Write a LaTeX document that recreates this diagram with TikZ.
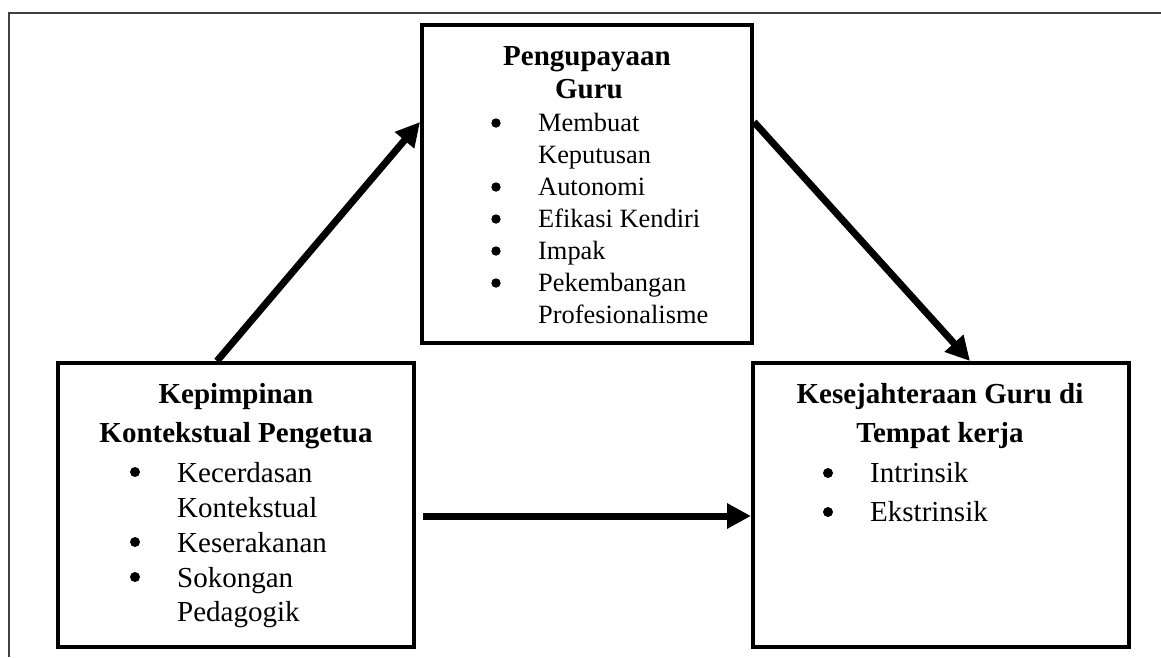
\documentclass[tikz,border=0pt]{standalone}
\usepackage{fontspec}
\setmainfont{Liberation Serif}
\usetikzlibrary{arrows.meta}
\begin{document}
\begin{tikzpicture}[x=1pt,y=-1pt,
  box/.style={draw, line width=4pt, rectangle, inner sep=0pt},
  arr/.style={line width=7pt, -{Triangle[length=24pt,width=24pt]}},
  ttl/.style={anchor=base, font=\fontsize{29}{33}\selectfont\bfseries, inner sep=0pt},
  itm/.style={anchor=base west, font=\fontsize{29}{33}\selectfont, inner sep=0pt},
  itms/.style={anchor=base west, font=\fontsize{26.4}{32}\selectfont, inner sep=0pt},
  bul/.style={circle, fill=black, inner sep=0pt, minimum size=10pt},
  buls/.style={circle, fill=black, inner sep=0pt, minimum size=9.4pt},
  frameline/.style={line width=1.3pt, draw=black!75}]
\useasboundingbox (0,0) rectangle (1161,657);
% outer frame
\coordinate (f1) at (1161,13);
\coordinate (f2) at (9,13);
\coordinate (f3) at (9,657);
\draw[frameline] (f1) -- (f2) -- (f3);
% boxes
\node[box, minimum width=330pt, minimum height=318pt] (T) at (587,184) {};
\node[box, minimum width=356pt, minimum height=284pt] (L) at (236,505) {};
\node[box, minimum width=376pt, minimum height=284pt] (R) at (941,505) {};
% top box text
\node[ttl] (t1) at (587,65) {Pengupayaan};
\node[ttl] (t2) at (589,98) {Guru};
\node[buls] (tb1) at (496,123) {};
\node[itms] (ti1) at (538,131) {Membuat};
\node[itms] (ti1b) at (538,163) {Keputusan};
\node[buls] (tb2) at (496,187) {};
\node[itms] (ti2) at (538,195) {Autonomi};
\node[buls] (tb3) at (496,219) {};
\node[itms] (ti3) at (538,227) {Efikasi Kendiri};
\node[buls] (tb4) at (496,251) {};
\node[itms] (ti4) at (538,259) {Impak};
\node[buls] (tb5) at (496,283) {};
\node[itms] (ti5) at (538,291) {Pekembangan};
\node[itms] (ti5b) at (538,323) {Profesionalisme};
% left box text
\node[ttl] (l1) at (236,403) {Kepimpinan};
\node[ttl] (l2) at (236,442) {Kontekstual Pengetua};
\node[bul] (lb1) at (135,472) {};
\node[itm] (li1) at (177,482) {Kecerdasan};
\node[itm] (li1b) at (177,517) {Kontekstual};
\node[bul] (lb2) at (135,542) {};
\node[itm] (li2) at (177,552) {Keserakanan};
\node[bul] (lb3) at (135,577) {};
\node[itm] (li3) at (177,587) {Sokongan};
\node[itm] (li3b) at (177,621) {Pedagogik};
% right box text
\node[ttl] (r1) at (940,403) {Kesejahteraan Guru di};
\node[ttl] (r2) at (940,442) {Tempat kerja};
\node[bul] (rb1) at (828,473) {};
\node[itm] (ri1) at (870,482) {Intrinsik};
\node[bul] (rb2) at (828,512) {};
\node[itm] (ri2) at (870,521) {Ekstrinsik};
% arrows
\draw[arr] ([xshift=-19pt]L.north) -- ([yshift=62pt]T.west);
\draw[arr] ([yshift=62pt]T.east) -- ([xshift=29pt]R.north);
\coordinate (hs) at (423,516);
\draw[arr] (hs) -- ([yshift=-11pt]R.west);
\end{tikzpicture}
\end{document}
